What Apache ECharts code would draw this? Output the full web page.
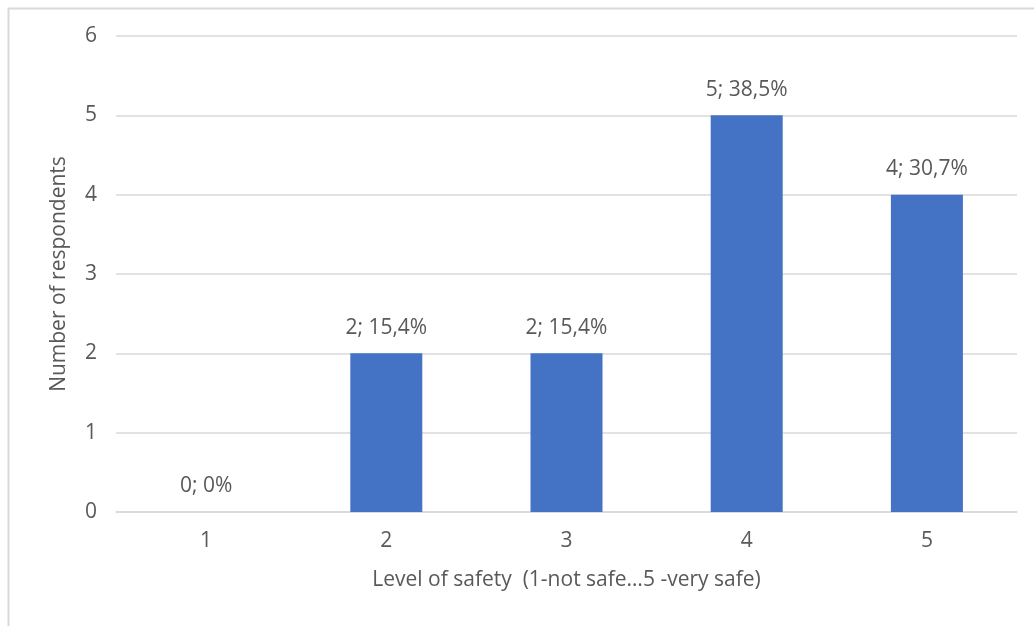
<!DOCTYPE html>
<html>
<head>
<meta charset="utf-8">
<script src="https://cdn.jsdelivr.net/npm/echarts@6/dist/echarts.min.js"></script>
<style>
    html, body { margin: 0; padding: 0; background: #fff; }
    #chart { width: 1034px; height: 626px; }
</style>
</head>
<body>
<div id="chart"></div>
<script>
const categories = ['1', '2', '3', '4', '5']
const respondents = [0, 2, 2, 5, 4]
const shares = ['0%', '15,4%', '15,4%', '38,5%', '30,7%']
const yTicks = [0, 1, 2, 3, 4, 5, 6]

const textColor = '#595959'
const font = '"Open Sans", "Noto Sans", sans-serif'
const fontSize = 21

const chart = echarts.init(document.getElementById('chart'))

const option = {
    animation: false,
    backgroundColor: '#fff',
    graphic: [
        {
            type: 'rect',
            shape: { x: 8.5, y: 8.5, width: 1040, height: 640 },
            style: { fill: 'none', stroke: '#d9d9d9', lineWidth: 2 }
        }
    ],
    grid: { left: 116, right: 17, top: 36, bottom: 114 },
    xAxis: {
        type: 'category',
        data: categories,
        name: 'Level of safety  (1-not safe…5 -very safe)',
        nameLocation: 'middle',
        nameGap: 58,
        nameTextStyle: { color: textColor, fontSize: fontSize, fontFamily: font },
        axisLine: { lineStyle: { color: '#d9d9d9', width: 1.5 } },
        axisTick: { show: false },
        axisLabel: { color: textColor, fontSize: fontSize, fontFamily: font, margin: 19 }
    },
    yAxis: {
        type: 'value',
        min: yTicks[0],
        max: yTicks[yTicks.length - 1],
        interval: 1,
        name: 'Number of respondents',
        nameLocation: 'middle',
        nameGap: 46,
        nameTextStyle: { color: textColor, fontSize: fontSize, fontFamily: font },
        axisLine: { show: false },
        axisTick: { show: false },
        axisLabel: { color: textColor, fontSize: fontSize, fontFamily: font, margin: 19 },
        splitLine: { lineStyle: { color: '#d9d9d9', width: 1.5 } }
    },
    series: [
        {
            type: 'bar',
            data: respondents,
            barWidth: 72,
            itemStyle: { color: '#4472c4' },
            label: {
                show: true,
                position: 'top',
                distance: 15,
                color: textColor,
                fontSize: fontSize,
                fontFamily: font,
                formatter: (params) => `${params.value}; ${shares[params.dataIndex]}`
            }
        }
    ]
}

chart.setOption(option)
</script>
</body>
</html>
